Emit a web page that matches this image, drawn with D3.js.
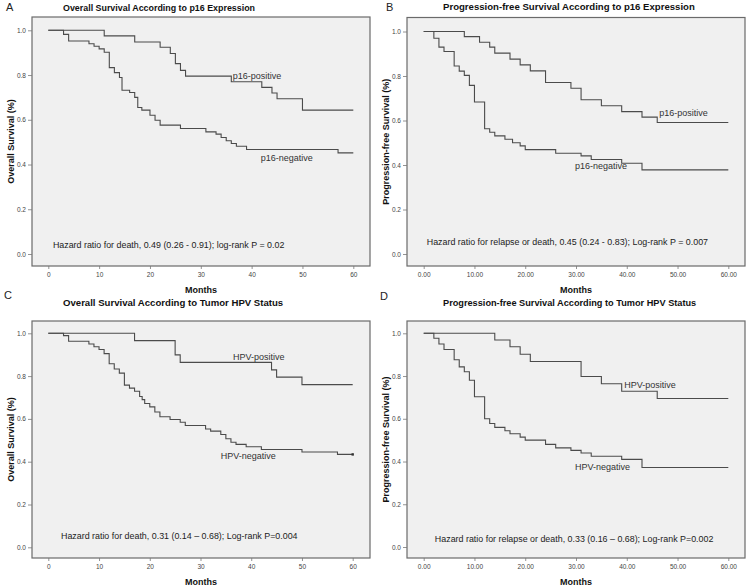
<!DOCTYPE html>
<html>
<head>
<meta charset="utf-8">
<script src="https://cdn.jsdelivr.net/npm/d3@7"></script>
<style>
  html, body { margin: 0; padding: 0; background: #ffffff; }
  svg { display: block; font-family: Arial, "Liberation Sans", sans-serif; }
</style>
</head>
<body>
<svg id="chart" width="750" height="588"></svg>
<script>
// ---------------- DATA ----------------
// Kaplan-Meier steps: [month, survival proportion]
const osP16Pos = [[0,1],[11,0.975],[17,0.948],[22,0.924],[24,0.896],[25,0.851],[26,0.821],[27,0.795],[36,0.770],[42,0.745],[44,0.720],[45,0.694],[50,0.643],[60,0.643]];
const osP16Neg = [[0,1],[3,0.982],[4,0.952],[8,0.94],[9,0.929],[10,0.917],[11,0.902],[12,0.833],[13,0.811],[14,0.789],[14.5,0.732],[16,0.722],[17,0.70],[17.6,0.655],[18.4,0.643],[20,0.62],[21,0.598],[22,0.576],[26,0.561],[31,0.546],[33,0.536],[34,0.521],[35,0.506],[36,0.494],[37,0.482],[39,0.467],[57,0.452],[60,0.452]];
const pfsP16Pos = [[0,1],[8,0.977],[11,0.952],[13,0.93],[14,0.903],[17,0.876],[19,0.85],[21,0.823],[24,0.771],[29,0.745],[31,0.693],[35,0.666],[39,0.64],[43,0.615],[46,0.591],[60,0.591]];
const pfsP16Neg = [[0,1],[2,0.97],[3,0.93],[4,0.91],[6,0.845],[7,0.822],[8,0.803],[9,0.758],[10,0.683],[12,0.563],[13,0.547],[14,0.531],[16,0.516],[17.5,0.50],[19,0.486],[20,0.469],[26,0.453],[31,0.441],[33,0.425],[39,0.408],[43,0.378],[60,0.378]];
const osHpvPos = [[0,1],[17,0.966],[25,0.899],[26,0.864],[44,0.829],[45,0.795],[50,0.76],[60,0.76]];
const osHpvNeg = [[0,1],[3,0.989],[4,0.963],[8,0.95],[9,0.937],[10,0.924],[11,0.905],[12,0.858],[13,0.833],[14,0.814],[15,0.758],[16,0.744],[17,0.729],[18,0.705],[18.5,0.69],[19,0.672],[20,0.656],[21,0.632],[22,0.61],[24,0.597],[26,0.584],[27,0.569],[31,0.553],[32,0.543],[34,0.527],[35,0.507],[36,0.491],[37,0.481],[39,0.47],[42,0.457],[50,0.445],[57,0.434],[60,0.434]];
const pfsHpvPos = [[0,1],[14,0.969],[17,0.937],[19,0.902],[21,0.868],[31,0.798],[35,0.764],[39,0.729],[46,0.695],[60,0.695]];
const pfsHpvNeg = [[0,1],[2,0.977],[3,0.95],[4,0.924],[6,0.876],[7,0.843],[8,0.82],[9,0.78],[10,0.703],[12,0.6],[13,0.578],[14,0.56],[16,0.544],[17,0.53],[19,0.514],[20,0.5],[24,0.48],[26,0.464],[29,0.452],[31,0.44],[33,0.425],[39,0.41],[43,0.372],[60,0.372]];

const xTicks = [0, 10, 20, 30, 40, 50, 60];
const yTicks = [0.0, 0.2, 0.4, 0.6, 0.8, 1.0];
const panelLetters = ["A", "B", "C", "D"];
const panelTitles = [
  "Overall Survival According to p16 Expression",
  "Progression-free Survival According to p16 Expression",
  "Overall Survival According to Tumor HPV Status",
  "Progression-free Survival According to Tumor HPV Status"
];
const yTitles = ["Overall Survival (%)", "Progression-free Survival (%)", "Overall Survival (%)", "Progression-free Survival (%)"];
const xTitle = "Months";
const seriesNames = [["p16-positive","p16-negative"],["p16-positive","p16-negative"],["HPV-positive","HPV-negative"],["HPV-positive","HPV-negative"]];
const hazardTexts = [
  "Hazard ratio for death, 0.49 (0.26 - 0.91); log-rank P = 0.02",
  "Hazard ratio for relapse or death, 0.45 (0.24 - 0.83); Log-rank P = 0.007",
  "Hazard ratio for death, 0.31 (0.14 \u2013 0.68); Log-rank P=0.004",
  "Hazard ratio for relapse or death, 0.33 (0.16 \u2013 0.68); Log-rank P=0.002"
];
const seriesData = [[osP16Pos, osP16Neg],[pfsP16Pos, pfsP16Neg],[osHpvPos, osHpvNeg],[pfsHpvPos, pfsHpvNeg]];
// annotation anchors in data units [month, survival]
const posLabelAt = [[36.3,0.796],[46.4,0.635],[36.4,0.891],[39.5,0.761]];
const negLabelAt = [[41.8,0.43],[29.8,0.396],[34.0,0.427],[29.8,0.373]];
const hazardAt = [[0.9,0.039],[0.6,0.054],[2.5,0.053],[2.2,0.036]];

// ---------------- LAYOUT ----------------
const layout = [
  {fl:32,  ft:17,  fr:370, fb:266, x0:48.3,  x60:353.3, yOne:30.3,  yZero:254,   tickFmt:d3.format("d"),   titleX:63,  titleY:11,  titleFs:8.9, letterX:6,   letterY:11,  yTitleX:11},
  {fl:407, ft:17.5,fr:745, fb:266, x0:423.7, x60:728.3, yOne:31.5,  yZero:254,   tickFmt:d3.format(".2f"), titleX:443, titleY:10,  titleFs:9.6, letterX:386, letterY:11,  yTitleX:386},
  {fl:32,  ft:321, fr:370, fb:558, x0:48.3,  x60:352.7, yOne:333.3, yZero:547.3, tickFmt:d3.format("d"),   titleX:63,  titleY:306, titleFs:9.6, letterX:4,   letterY:299, yTitleX:11},
  {fl:407, ft:321, fr:745, fb:558, x0:423.7, x60:728.3, yOne:333.3, yZero:547,   tickFmt:d3.format(".2f"), titleX:443, titleY:306, titleFs:9.2, letterX:380, letterY:300, yTitleX:386}
];

const svg = d3.select("#chart");
const curveColor = "#4b4b4b";

layout.forEach((L, i) => {
  const g = svg.append("g");
  const x = d3.scaleLinear().domain([0, 60]).range([L.x0, L.x60]);
  const y = d3.scaleLinear().domain([0, 1]).range([L.yZero, L.yOne]);

  // frame/background
  g.append("rect")
    .attr("x", L.fl).attr("y", L.ft)
    .attr("width", L.fr - L.fl).attr("height", L.fb - L.ft)
    .attr("fill", "#f0f0f0").attr("stroke", "#6a6a6a").attr("stroke-width", 1.2);

  // axes
  const yAxis = d3.axisLeft(y).tickValues(yTicks).tickFormat(d3.format(".1f")).tickSize(4).tickPadding(2);
  const yg = g.append("g").attr("transform", `translate(${L.fl},0)`).call(yAxis);
  const xAxis = d3.axisBottom(x).tickValues(xTicks).tickFormat(L.tickFmt).tickSize(3).tickPadding(3);
  const xg = g.append("g").attr("transform", `translate(0,${L.fb})`).call(xAxis);
  [yg, xg].forEach(a => {
    a.select(".domain").remove();
    a.selectAll(".tick line").attr("stroke", "#777").attr("stroke-width", 0.8);
    a.selectAll(".tick text").attr("fill", "#444").style("font-size", "6.5px").style("font-family", "Arial, 'Liberation Sans', sans-serif");
  });

  // curves
  const line = d3.line().x(d => x(d[0])).y(d => y(d[1])).curve(d3.curveStepAfter);
  seriesData[i].forEach(s => {
    g.append("path").datum(s)
      .attr("d", line)
      .attr("fill", "none")
      .attr("stroke", curveColor)
      .attr("stroke-width", 1.1);
  });
  // censor mark at end of HPV-negative OS curve
  if (i === 2) {
    const last = osHpvNeg[osHpvNeg.length - 1];
    g.append("rect").attr("x", x(last[0]) - 1.2).attr("y", y(last[1]) - 1.2)
      .attr("width", 2.4).attr("height", 2.4).attr("fill", "#333");
  }

  // labels
  const lab = (pos, txt, fs, col) => g.append("text")
    .attr("x", x(pos[0])).attr("y", y(pos[1]))
    .attr("dy", "0.35em")
    .attr("fill", col).style("font-size", fs + "px")
    .text(txt);
  lab(posLabelAt[i], seriesNames[i][0], 9, "#333");
  lab(negLabelAt[i], seriesNames[i][1], 9, "#333");
  lab(hazardAt[i], hazardTexts[i], 8.9, "#222");

  // titles
  g.append("text").attr("x", L.titleX).attr("y", L.titleY)
    .attr("fill", "#111").style("font-size", L.titleFs + "px").style("font-weight", "bold")
    .text(panelTitles[i]);
  g.append("text").attr("x", L.letterX).attr("y", L.letterY)
    .attr("fill", "#222").style("font-size", "11px")
    .text(panelLetters[i]);
  g.append("text")
    .attr("transform", `translate(${L.yTitleX},${(L.ft + L.fb) / 2}) rotate(-90)`)
    .attr("text-anchor", "middle").attr("dy", "0.35em")
    .attr("fill", "#111").style("font-size", "9px").style("font-weight", "bold")
    .text(yTitles[i]);
  g.append("text")
    .attr("x", (L.fl + L.fr) / 2).attr("y", L.fb + 24)
    .attr("text-anchor", "middle").attr("dy", "0.35em")
    .attr("fill", "#111").style("font-size", "9px").style("font-weight", "bold")
    .text(xTitle);
});
</script>
</body>
</html>
